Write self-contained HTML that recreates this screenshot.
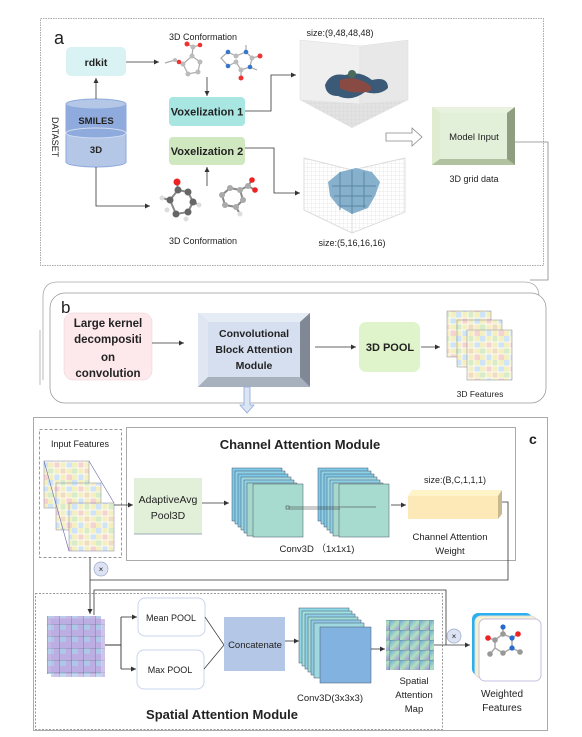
<!DOCTYPE html>
<html><head><meta charset="utf-8"><style>
html,body{margin:0;padding:0;background:#fff}
svg{display:block}
text{font-family:"Liberation Sans",sans-serif;fill:#222}
</style></head><body>
<svg width="582" height="737" viewBox="0 0 582 737" xmlns="http://www.w3.org/2000/svg">
<defs>
<marker id="ar" markerWidth="6" markerHeight="6" refX="5" refY="3" orient="auto" markerUnits="userSpaceOnUse"><path d="M0,0.5 L5,3 L0,5.5z" fill="#333"/></marker>
<pattern id="pg" width="24" height="24" patternUnits="userSpaceOnUse">
<rect width="24" height="24" fill="#f4efc0"/>
<rect x="0" y="0" width="6" height="6" fill="#cfe5f5"/><rect x="12" y="0" width="6" height="6" fill="#d8ecc8"/>
<rect x="6" y="6" width="6" height="6" fill="#f5d3cf"/><rect x="18" y="6" width="6" height="6" fill="#cfe5f5"/>
<rect x="0" y="12" width="6" height="6" fill="#d8ecc8"/><rect x="12" y="12" width="6" height="6" fill="#f2dcc0"/>
<rect x="6" y="18" width="6" height="6" fill="#cfe5f5"/><rect x="18" y="18" width="6" height="6" fill="#f5d3cf"/>
<path d="M6 0V24M12 0V24M18 0V24M0 6H24M0 12H24M0 18H24" stroke="#fff" stroke-width="0.8"/>
</pattern>
<pattern id="sp" width="12" height="12" patternUnits="userSpaceOnUse">
<rect width="12" height="12" fill="#b9a9e0"/><rect width="6" height="6" fill="#a9c4e8"/>
<path d="M0 0H12V12" stroke="#556" stroke-width="0.6" fill="none"/>
</pattern>
<linearGradient id="sg" x1="0" y1="0" x2="1" y2="1"><stop offset="0" stop-color="#6fa8d8"/><stop offset="0.5" stop-color="#b0e0c0"/><stop offset="1" stop-color="#9f8fd8"/></linearGradient>
<pattern id="sam" width="10" height="10" patternUnits="userSpaceOnUse">
<rect width="10" height="10" fill="url(#sg)"/><path d="M0 0H10V10" stroke="#556" stroke-width="0.6" fill="none"/>
</pattern>
<pattern id="gl" width="4" height="4" patternUnits="userSpaceOnUse"><path d="M4 0V4M0 4H4" stroke="#ccc" stroke-width="0.4" fill="none"/></pattern>
</defs>

<!-- Panel a -->
<rect x="40.5" y="18.5" width="503" height="247" fill="#fff" stroke="#aaa" stroke-dasharray="1.5 1"/>
<polyline points="515,142 548,142 548,280 530,280" fill="none" stroke="#888" stroke-width="0.8"/>
<text x="54" y="44" font-size="18">a</text>
<rect x="66" y="47" width="60" height="29" rx="5" fill="#d9f2f3"/>
<text x="96" y="66" font-size="10.5" font-weight="bold" text-anchor="middle">rdkit</text>
<path d="M66,104 V162 A30,5 0 0 0 126,162 V104" fill="#b4c7e7" stroke="#8fa9dc"/>
<path d="M66,104 V133 A30,5 0 0 0 126,133 V104z" fill="#8faadc"/>
<ellipse cx="96" cy="104" rx="30" ry="5" fill="#b4c7e7" stroke="#8fa9dc"/>
<ellipse cx="96" cy="133" rx="30" ry="5" fill="none" stroke="#d0dcf0" stroke-width="1"/>
<text x="96" y="124" font-size="9.5" font-weight="bold" text-anchor="middle">SMILES</text>
<text x="96" y="153" font-size="9.5" font-weight="bold" text-anchor="middle">3D</text>
<text transform="translate(52,117) rotate(90)" font-size="9">DATASET</text>
<line x1="96" y1="99" x2="96" y2="78" stroke="#333" stroke-width="0.8" marker-end="url(#ar)"/>
<line x1="126" y1="62" x2="159" y2="62" stroke="#333" stroke-width="0.8" marker-end="url(#ar)"/>
<polyline points="96,167 96,206 150,206" fill="none" stroke="#333" stroke-width="0.8" marker-end="url(#ar)"/>
<text x="203" y="40" font-size="9" text-anchor="middle">3D Conformation</text>
<text x="203" y="244" font-size="9" text-anchor="middle">3D Conformation</text>
<g stroke="#aaa" stroke-width="1.2" fill="none">
<path d="M165,63 L175,60 L183,64 L192,56 L200,62 L198,72 L188,74 L183,64 M192,56 L193,47 L200,45 M193,47 L187,44"/>
<path d="M221,58 L228,52 L236,56 L246,52 L252,58 L250,67 L241,70 L236,62 L228,66 Z M246,52 L246,45 M252,58 L260,56 M241,70 L241,78 M250,67 L257,70"/>
</g>
<g fill="#bbb"><circle cx="183" cy="64" r="2.5"/><circle cx="192" cy="56" r="2.5"/><circle cx="200" cy="62" r="2.5"/><circle cx="198" cy="72" r="2.5"/><circle cx="188" cy="74" r="2.5"/><circle cx="175" cy="60" r="2"/><circle cx="193" cy="47" r="2.5"/>
<circle cx="236" cy="56" r="2.5"/><circle cx="252" cy="58" r="2.5"/><circle cx="241" cy="70" r="2.5"/><circle cx="236" cy="62" r="2.5"/></g>
<g fill="#e33"><circle cx="187" cy="44" r="2.5"/><circle cx="200" cy="45" r="2.3"/><circle cx="179" cy="62" r="2.3"/><circle cx="260" cy="56" r="2.5"/><circle cx="241" cy="78" r="2.5"/></g>
<g fill="#37c"><circle cx="228" cy="52" r="2.3"/><circle cx="228" cy="66" r="2.3"/><circle cx="246" cy="52" r="2.3"/><circle cx="250" cy="67" r="2.3"/></g>
<g stroke="#888" stroke-width="2" fill="none">
<path d="M170,200 L178,190 L188,192 L193,202 L188,212 L176,214 Z M178,190 L177,182 M170,200 L162,198 M193,202 L199,205"/>
<path d="M222,195 L230,188 L240,190 L243,200 L236,207 L225,205 Z M240,190 L248,186 L252,180 M248,186 L255,190 M236,207 L240,214"/>
</g>
<g fill="#666"><circle cx="170" cy="200" r="3.5"/><circle cx="178" cy="190" r="3.5"/><circle cx="188" cy="192" r="3.5"/><circle cx="193" cy="202" r="3.5"/><circle cx="188" cy="212" r="3.5"/><circle cx="176" cy="214" r="3.5"/></g>
<g fill="#aaa"><circle cx="222" cy="195" r="3"/><circle cx="230" cy="188" r="3"/><circle cx="240" cy="190" r="3"/><circle cx="243" cy="200" r="3"/><circle cx="236" cy="207" r="3"/><circle cx="225" cy="205" r="3"/><circle cx="248" cy="186" r="3"/></g>
<g fill="#ddd"><circle cx="162" cy="198" r="2.5"/><circle cx="199" cy="205" r="2.5"/><circle cx="240" cy="214" r="2.5"/><circle cx="186" cy="219" r="2.5"/><circle cx="167" cy="210" r="2.5"/></g>
<g fill="#e22"><circle cx="177" cy="182" r="3.5"/><circle cx="252" cy="180" r="2.8"/><circle cx="255" cy="190" r="2.8"/></g>
<line x1="207" y1="77" x2="207" y2="96" stroke="#333" stroke-width="0.8" marker-end="url(#ar)"/>
<line x1="207" y1="186" x2="207" y2="167" stroke="#333" stroke-width="0.8" marker-end="url(#ar)"/>
<rect x="169" y="97" width="76" height="29" rx="4" fill="#a8e6e2"/>
<text x="207" y="115.5" font-size="11" font-weight="bold" text-anchor="middle">Voxelization 1</text>
<rect x="169" y="137" width="76" height="28" rx="4" fill="#d0e8c0"/>
<text x="207" y="155" font-size="11" font-weight="bold" text-anchor="middle">Voxelization 2</text>
<polyline points="245,111 271,111 271,75 296,75" fill="none" stroke="#333" stroke-width="0.8" marker-end="url(#ar)"/>
<polyline points="245,148 274,148 274,193 300,193" fill="none" stroke="#333" stroke-width="0.8" marker-end="url(#ar)"/>
<!-- cube 1 -->
<polygon points="300,40 360,46 360,104 300,100" fill="#efefef" stroke="#ddd" stroke-width="0.5"/>
<polygon points="360,46 408,40 408,100 360,104" fill="#e8e8e8" stroke="#ddd" stroke-width="0.5"/>
<polygon points="300,100 360,104 408,100 352,128" fill="#e2e2e2"/>
<polygon points="300,100 360,104 408,100 352,128" fill="url(#gl)"/>
<path d="M325,85 Q330,72 345,75 Q360,70 372,80 Q388,76 388,88 Q380,96 365,92 Q352,102 338,96 Q326,96 325,85z" fill="#3b5a78"/>
<path d="M340,80 Q355,75 368,84 Q376,90 366,92 Q350,94 340,88z" fill="#8a4a44"/>
<circle cx="352" cy="74" r="4" fill="#4a6a5a"/>
<text x="340" y="36" font-size="9" text-anchor="middle">size:(9,48,48,48)</text>
<!-- cube 2 -->
<polygon points="304,158 352,170 352,233 304,210" fill="url(#gl)" stroke="#ddd"/>
<polygon points="352,170 405,158 405,212 352,233" fill="url(#gl)" stroke="#ddd"/>
<path d="M328,182 L340,172 L356,168 L372,172 L380,182 L375,196 L368,208 L352,214 L338,206 L330,196z" fill="#86b0cc"/>
<path d="M332,186 H376 M334,196 H372 M340,206 H366 M340,172 V210 M352,170 V214 M364,172 V208" stroke="#5a87a8" stroke-width="1" fill="none"/>
<text x="352" y="246" font-size="9" text-anchor="middle">size:(5,16,16,16)</text>
<polygon points="386,133 412,133 412,128 422,137 412,146 412,141 386,141" fill="#fff" stroke="#888" stroke-width="0.8"/>
<rect x="432" y="107" width="83" height="58" fill="#c5d8b5"/>
<polygon points="432,107 515,107 507,113 440,113" fill="#e8f2df"/>
<polygon points="432,107 440,113 440,159 432,165" fill="#dfeccf"/>
<polygon points="515,107 515,165 507,159 507,113" fill="#8f9e80"/>
<polygon points="432,165 440,159 507,159 515,165" fill="#b0c2a0"/>
<rect x="440" y="113" width="67" height="46" fill="#e2efd9"/>
<text x="474" y="140" font-size="9.5" text-anchor="middle">Model Input</text>
<text x="474" y="182" font-size="9" text-anchor="middle">3D grid data</text>

<!-- Panel b -->
<path d="M43,380 V297 Q43,282 58,282 H524 Q539,282 539,297 V372" fill="none" stroke="#aaa" stroke-width="0.8"/>
<rect x="50" y="293" width="496" height="110" rx="15" fill="#fff" stroke="#999" stroke-width="0.8"/>
<line x1="40" y1="330" x2="40" y2="385" stroke="#aaa" stroke-width="0.8"/>
<text x="61" y="313" font-size="17">b</text>
<rect x="64" y="313" width="88" height="67" rx="9" fill="#fde9ec" stroke="#e8cfd6" stroke-width="0.5"/>
<g font-size="11.5" font-weight="bold" text-anchor="middle"><text x="108" y="327">Large kernel</text><text x="108" y="343">decompositi</text><text x="108" y="361">on</text><text x="108" y="377">convolution</text></g>
<line x1="152" y1="343" x2="184" y2="343" stroke="#333" stroke-width="0.8" marker-end="url(#ar)"/>
<rect x="198" y="313" width="112" height="74" fill="#b0bccc"/>
<polygon points="198,313 310,313 300,322 208,322" fill="#e6ecf6"/>
<polygon points="198,313 208,322 208,377 198,387" fill="#e0e7f2"/>
<polygon points="310,313 310,387 300,377 300,322" fill="#7f8894"/>
<polygon points="198,387 208,377 300,377 310,387" fill="#a7b0bd"/>
<rect x="208" y="322" width="92" height="55" fill="#d6dff0"/>
<g font-size="10.5" font-weight="bold" text-anchor="middle"><text x="254" y="337">Convolutional</text><text x="254" y="353">Block Attention</text><text x="254" y="369">Module</text></g>
<line x1="315" y1="347" x2="356" y2="347" stroke="#333" stroke-width="0.8" marker-end="url(#ar)"/>
<rect x="359" y="322" width="61" height="50" rx="7" fill="#e0f4cc"/>
<text x="390" y="351" font-size="11" font-weight="bold" text-anchor="middle">3D POOL</text>
<line x1="421" y1="347" x2="440" y2="347" stroke="#333" stroke-width="0.8" marker-end="url(#ar)"/>
<g stroke="#888" stroke-width="0.5">
<rect x="447" y="311" width="44" height="46" fill="url(#pg)"/>
<rect x="457" y="320" width="45" height="47" fill="url(#pg)"/>
<rect x="467" y="330" width="45" height="50" fill="url(#pg)"/>
</g>
<text x="480" y="397" font-size="8.5" text-anchor="middle">3D Features</text>
<polygon points="244,387 250,387 250,405 254,405 247,413 240,405 244,405" fill="#dbe5f3" stroke="#8fa9dc" stroke-width="0.8"/>

<!-- Panel c -->
<rect x="33.5" y="417.5" width="514" height="313" fill="none" stroke="#aaa"/>
<text x="529" y="444" font-size="14" font-weight="bold">c</text>
<rect x="39.5" y="429.5" width="82" height="128" fill="none" stroke="#999" stroke-dasharray="3 2"/>
<text x="80" y="447" font-size="9" text-anchor="middle">Input Features</text>
<g stroke="#88a" stroke-width="0.5">
<rect x="44" y="461" width="45" height="47" fill="url(#pg)"/>
<rect x="56" y="483" width="45" height="47" fill="url(#pg)"/>
<rect x="69" y="503" width="45" height="48" fill="url(#pg)"/>
<path d="M44,461 L69,551 M89,461 L114,503" stroke="#66a" stroke-width="0.6" fill="none"/>
</g>
<rect x="126.5" y="427.5" width="389" height="133" fill="none" stroke="#aaa"/>
<text x="300" y="449" font-size="13" font-weight="bold" text-anchor="middle">Channel Attention Module</text>
<line x1="114" y1="505" x2="133" y2="505" stroke="#333" stroke-width="0.8" marker-end="url(#ar)"/>
<rect x="134" y="478" width="68" height="56" fill="#e2efd9"/>
<line x1="134" y1="534" x2="202" y2="534" stroke="#9ab"/>
<text x="168" y="503" font-size="10.5" text-anchor="middle">AdaptiveAvg</text>
<text x="168" y="519" font-size="10.5" text-anchor="middle">Pool3D</text>
<line x1="202" y1="503" x2="229" y2="503" stroke="#333" stroke-width="0.8" marker-end="url(#ar)"/>
<g stroke="#456" stroke-width="0.5">
<rect x="232" y="468" width="50" height="53" fill="#7ec8e8"/><rect x="235" y="471" width="50" height="53" fill="#8ed0e6"/><rect x="238" y="474" width="50" height="53" fill="#7ec8e8"/><rect x="241" y="477" width="50" height="53" fill="#9ed6e0"/><rect x="244" y="480" width="50" height="53" fill="#8ed0e6"/><rect x="247" y="483" width="50" height="53" fill="#a8d8cc"/><rect x="253" y="484" width="50" height="53" fill="#a8dbcf"/>
<rect x="318" y="468" width="50" height="53" fill="#7ec8e8"/><rect x="321" y="471" width="50" height="53" fill="#8ed0e6"/><rect x="324" y="474" width="50" height="53" fill="#7ec8e8"/><rect x="327" y="477" width="50" height="53" fill="#9ed6e0"/><rect x="330" y="480" width="50" height="53" fill="#8ed0e6"/><rect x="333" y="483" width="50" height="53" fill="#a8d8cc"/><rect x="339" y="484" width="50" height="53" fill="#a8dbcf"/>
</g>
<rect x="286" y="506" width="3" height="3" fill="none" stroke="#333" stroke-width="0.5"/>
<path d="M289,507 L376,507 M289,509 L340,509" stroke="#333" stroke-width="0.6" fill="none"/>
<line x1="391" y1="505" x2="406" y2="505" stroke="#333" stroke-width="0.8" marker-end="url(#ar)"/>
<polygon points="408,496 498,496 502,490 412,490" fill="#fff3c8"/>
<polygon points="498,496 502,490 502,514 498,519" fill="#c8b890"/>
<rect x="408" y="496" width="90" height="23" fill="#fde9b8"/>
<text x="455" y="483" font-size="9" text-anchor="middle">size:(B,C,1,1,1)</text>
<text x="450" y="540" font-size="9.5" text-anchor="middle">Channel Attention</text>
<text x="450" y="554" font-size="9.5" text-anchor="middle">Weight</text>
<text x="317" y="552" font-size="9.5" text-anchor="middle">Conv3D （1x1x1)</text>
<polyline points="502,502 508,502 508,580 90,580 90,614" fill="none" stroke="#333" stroke-width="0.8" marker-end="url(#ar)"/>
<line x1="90" y1="557" x2="90" y2="580" stroke="#333" stroke-width="0.8"/>
<circle cx="101" cy="569" r="7" fill="#dde3f3" stroke="#9aa8cc" stroke-width="0.7"/>
<text x="101" y="572" font-size="8" fill="#778" text-anchor="middle">×</text>
<rect x="35.5" y="593.5" width="407" height="136" fill="none" stroke="#999" stroke-dasharray="2 1.5"/>
<polyline points="94,615 94,590 446,590 446,645" fill="none" stroke="#333" stroke-width="0.8"/>
<rect x="47" y="616" width="54" height="58" fill="url(#sp)" opacity="0.85"/>
<rect x="51" y="619" width="54" height="58" fill="url(#sp)" opacity="0.7"/>
<path d="M105,645 H121 M121,617 V669" fill="none" stroke="#333" stroke-width="0.9"/>
<path d="M121,617 H137" stroke="#333" stroke-width="0.8" marker-end="url(#ar)" fill="none"/>
<path d="M121,669 H136" stroke="#333" stroke-width="0.8" marker-end="url(#ar)" fill="none"/>
<rect x="138" y="598" width="67" height="38" rx="7" fill="#fff" stroke="#c8d4ec"/>
<text x="171" y="621" font-size="9" text-anchor="middle">Mean POOL</text>
<rect x="137" y="650" width="67" height="39" rx="7" fill="#fff" stroke="#c8d4ec"/>
<text x="170" y="673" font-size="9" text-anchor="middle">Max POOL</text>
<path d="M205,617 L224,645 M204,669 L224,645" stroke="#333" stroke-width="0.7" fill="none"/>
<rect x="224" y="617" width="61" height="54" fill="#b4c7e7"/>
<text x="255" y="648" font-size="9.5" text-anchor="middle">Concatenate</text>
<line x1="285" y1="641" x2="299" y2="641" stroke="#333" stroke-width="0.8" marker-end="url(#ar)"/>
<g stroke="#456" stroke-width="0.5">
<rect x="299" y="608" width="50" height="55" fill="#8fd8e8"/><rect x="302" y="611" width="50" height="55" fill="#a0e0e0"/><rect x="305" y="614" width="50" height="55" fill="#8fd0e8"/><rect x="308" y="617" width="50" height="55" fill="#a0dcd8"/><rect x="311" y="620" width="50" height="55" fill="#90c8e8"/><rect x="314" y="623" width="50" height="55" fill="#a0d8e0"/><rect x="320" y="627" width="51" height="56" fill="#82b2e0"/>
</g>
<text x="330" y="701" font-size="9.5" text-anchor="middle">Conv3D(3x3x3)</text>
<line x1="371" y1="649" x2="385" y2="649" stroke="#333" stroke-width="0.8" marker-end="url(#ar)"/>
<rect x="386" y="620" width="48" height="50" fill="url(#sam)"/>
<g font-size="9.5" text-anchor="middle"><text x="414" y="684">Spatial</text><text x="414" y="698">Attention</text><text x="414" y="712">Map</text></g>
<line x1="434" y1="645" x2="470" y2="645" stroke="#333" stroke-width="0.8" marker-end="url(#ar)"/>
<circle cx="454" cy="636" r="7" fill="#dde3f3" stroke="#9aa8cc" stroke-width="0.7"/>
<text x="454" y="639" font-size="8" fill="#778" text-anchor="middle">×</text>
<rect x="472" y="613" width="60" height="62" rx="6" fill="#2ab0ee"/>
<rect x="475" y="616" width="62" height="62" rx="6" fill="#f6f2d0" stroke="#ddd"/>
<rect x="479" y="619" width="62" height="62" rx="6" fill="#fff" stroke="#c8bfe0"/>
<g stroke="#aaa" stroke-width="1.5" fill="none"><path d="M495,640 L503,634 L512,638 L512,648 L503,653 L495,648z M512,638 L518,634 M512,648 L520,652 M503,634 L503,627 M495,648 L490,654 M495,640 L488,638"/></g>
<g fill="#999"><circle cx="495" cy="640" r="2.8"/><circle cx="503" cy="634" r="2.8"/><circle cx="503" cy="653" r="2.8"/><circle cx="490" cy="654" r="2.8"/><circle cx="520" cy="652" r="2.8"/></g>
<g fill="#2a6ad0"><circle cx="512" cy="638" r="2.6"/><circle cx="512" cy="648" r="2.6"/><circle cx="503" cy="627" r="2.6"/></g>
<g fill="#e22"><circle cx="518" cy="634" r="2.8"/><circle cx="488" cy="638" r="2.8"/></g>
<text x="502" y="697" font-size="10" text-anchor="middle">Weighted</text>
<text x="502" y="711" font-size="10" text-anchor="middle">Features</text>
<text x="222" y="719" font-size="13" font-weight="bold" text-anchor="middle">Spatial Attention Module</text>
</svg>
</body></html>
